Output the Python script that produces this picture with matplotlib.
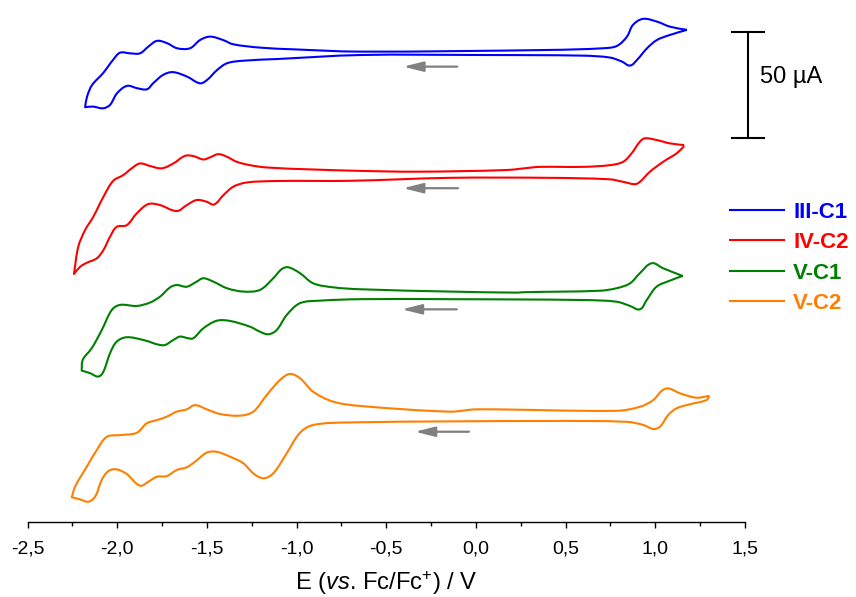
import matplotlib
matplotlib.use("Agg")
import matplotlib.pyplot as plt
from matplotlib.path import Path
from matplotlib.patches import PathPatch
from matplotlib.lines import Line2D
import numpy as np

plt.rcParams['font.family'] = ['Liberation Sans', 'DejaVu Sans']
plt.rcParams['mathtext.fontset'] = 'custom'
plt.rcParams['mathtext.rm'] = 'Liberation Sans'
plt.rcParams['mathtext.it'] = 'Liberation Sans:italic'

# ---------------- data (E in V vs Fc/Fc+, current in µA relative to each trace's baseline) ----------------
labels = ['III-C1', 'IV-C2', 'V-C1', 'V-C2']
colors = ['#0000FF', '#FF0000', '#008000', '#FF7F00']
offsets = [223.3, 164.1, 107.4, 50.6]   # vertical stacking offsets, µA

# III-C1 : reduction sweep (right -> left) then return sweep (left -> right)
E_III_C1 = [1.176, 1.082, 1.009, 0.954, 0.898, 0.859, 0.814, 0.747, 0.597, 0.039, -0.646, -1.109,
            -1.298, -1.388, -1.443, -1.499, -1.538, -1.611, -1.689, -1.744, -1.800, -1.834, -1.889,
            -1.945, -2.001, -2.040, -2.079, -2.135, -2.179,
            -2.168, -2.140, -2.079, -2.023, -1.984, -1.928, -1.873, -1.826, -1.778, -1.722, -1.666,
            -1.594, -1.538, -1.482, -1.410, -1.354, -1.204, -1.020, -0.646, 0.413, 0.708, 0.786,
            0.842, 0.875, 0.931, 1.009, 1.082, 1.176]
I_III_C1 = [9.5, 7.1, 4.7, 0.8, -4.7, -7.4, -5.5, -3.6, -2.7, -2.4, -2.4, -4.3,
            -5.1, -6.3, -9.5, -14.2, -15.8, -12.6, -10.5, -11.8, -15.8, -18.6, -18.1,
            -17.0, -20.5, -26.0, -27.6, -26.8, -27.1,
            -22.1, -16.6, -11.0, -4.7, -1.3, -1.6, -1.6, 1.6, 4.3, 3.2, 0.8,
            0.8, 4.7, 6.3, 4.7, 2.7, 1.1, 0.3, -0.8, 0.0, 0.8, 1.9,
            6.3, 11.8, 14.7, 13.4, 11.0, 9.5]

E_IV_C2 = [1.161, 1.119, 1.044, 0.970, 0.914, 0.887, 0.821, 0.747, 0.413, -0.145, -0.702, -1.111,
           -1.278, -1.353, -1.408, -1.460, -1.501, -1.557, -1.612, -1.668, -1.761, -1.826, -1.891,
           -1.947, -2.003, -2.040, -2.077, -2.114, -2.170, -2.207, -2.241,
           -2.217, -2.179, -2.133, -2.077, -2.022, -1.966, -1.919, -1.873, -1.817, -1.752, -1.687,
           -1.622, -1.576, -1.520, -1.482, -1.436, -1.389, -1.334, -1.260, -1.166, -0.925, -0.646,
           -0.330, 0.171, 0.301, 0.357, 0.597, 0.747, 0.821, 0.868, 0.914, 0.942, 1.007, 1.082, 1.161]
I_IV_C2 = [13.7, 10.3, 6.3, 1.6, -3.2, -4.3, -3.2, -2.0, -1.3, -1.3, -2.7, -2.8,
           -3.5, -5.5, -9.5, -13.9, -12.6, -11.8, -14.2, -17.0, -14.2, -13.7, -18.1,
           -23.7, -24.5, -29.2, -35.5, -39.4, -41.5, -43.4, -46.8,
           -33.9, -26.0, -19.7, -10.3, -2.7, 0.0, 3.2, 5.5, 4.3, 3.2, 5.5,
           9.1, 9.0, 7.4, 8.4, 9.9, 8.7, 6.3, 4.7, 3.6, 2.7, 2.0,
           1.6, 2.4, 3.5, 3.9, 3.9, 4.7, 6.3, 10.3, 15.8, 17.4, 16.6, 15.0, 14.2]

E_V_C1 = [1.152, 1.082, 1.007, 0.952, 0.914, 0.859, 0.785, 0.598, -0.145, -0.646, -0.869, -0.981,
          -1.055, -1.111, -1.157, -1.204, -1.260, -1.371, -1.445, -1.520, -1.576, -1.603, -1.650,
          -1.687, -1.743, -1.854, -1.947, -2.003, -2.040, -2.077, -2.105, -2.151, -2.198,
          -2.192, -2.142, -2.086, -2.030, -1.984, -1.891, -1.817, -1.761, -1.705, -1.668, -1.612,
          -1.557, -1.520, -1.464, -1.389, -1.297, -1.204, -1.130, -1.083, -1.046, -0.981, -0.907,
          -0.795, -0.646, -0.145, 0.227, 0.264, 0.691, 0.785, 0.859, 0.914, 0.980, 1.044, 1.152]
I_V_C1 = [9.0, 6.8, 3.9, -2.4, -6.8, -5.2, -3.2, -2.4, -2.0, -2.0, -2.7, -3.9,
          -9.5, -16.6, -18.6, -17.4, -15.0, -12.3, -12.2, -15.8, -20.5, -20.5, -19.7,
          -21.3, -23.8, -21.3, -20.0, -22.1, -27.6, -36.3, -38.6, -37.0, -35.8,
          -30.7, -25.2, -16.6, -7.1, -4.7, -5.2, -3.6, -0.8, 3.6, 4.7, 3.9,
          6.3, 7.9, 6.3, 3.2, 1.6, 2.4, 7.9, 12.2, 13.1, 10.3, 5.5,
          3.6, 2.7, 1.6, 1.1, 1.3, 2.0, 3.2, 5.5, 10.3, 15.0, 12.6, 9.0]

E_V_C2 = [1.301, 1.286, 1.193, 1.119, 1.072, 1.026, 0.989, 0.933, 0.840, 0.413, -0.702, -0.907,
          -0.981, -1.055, -1.130, -1.185, -1.241, -1.297, -1.371, -1.445, -1.501, -1.566, -1.612,
          -1.668, -1.724, -1.779, -1.826, -1.873, -1.947, -2.003, -2.049, -2.086, -2.123, -2.161,
          -2.207, -2.253,
          -2.235, -2.170, -2.114, -2.058, -1.984, -1.891, -1.835, -1.779, -1.724, -1.668, -1.612,
          -1.566, -1.501, -1.427, -1.315, -1.241, -1.166, -1.092, -1.037, -0.981, -0.907, -0.795,
          -0.646, -0.145, 0.004, 0.785, 0.914, 0.989, 1.035, 1.072, 1.137, 1.230, 1.301]
I_V_C2 = [9.1, 7.1, 5.1, 3.2, 0.0, -5.5, -6.6, -4.7, -3.2, -2.8, -3.5, -4.7,
          -8.4, -18.1, -27.6, -29.9, -27.6, -22.8, -19.7, -17.4, -17.8, -22.1, -24.7,
          -26.0, -28.9, -29.2, -31.5, -33.4, -27.9, -25.7, -26.5, -30.7, -38.6, -41.0,
          -39.9, -38.9,
          -33.9, -24.5, -16.6, -10.3, -9.5, -8.4, -3.9, -2.4, -0.8, 1.6, 2.7,
          4.7, 2.7, 0.5, -0.3, 1.6, 9.5, 16.6, 19.4, 17.4, 11.0, 6.3,
          4.3, 1.6, 2.7, 2.0, 3.9, 7.1, 11.4, 12.6, 10.3, 8.2, 9.1]

E_series = [E_III_C1, E_IV_C2, E_V_C1, E_V_C2]
I_series = [I_III_C1, I_IV_C2, I_V_C1, I_V_C2]

# scan-direction arrows: (E start, E end, current level) per trace
arrow_E_start = [-0.104, -0.100, -0.107, -0.039]
arrow_E_end = [-0.405, -0.406, -0.413, -0.340]
arrow_I = [215.4, 157.9, 100.6, 42.7]

xticks = [-2.5, -2.0, -1.5, -1.0, -0.5, 0.0, 0.5, 1.0, 1.5]
xticklabels = ['-2,5', '-2,0', '-1,5', '-1,0', '-0,5', '0,0', '0,5', '1,0', '1,5']
scale_bar_uA = 50

# ---------------- figure ----------------
W, H = 856, 597
fig = plt.figure(figsize=(W / 100, H / 100), dpi=100)
ax = fig.add_axes([27.5 / W, 75 / H, 717.5 / W, 517 / H])
ax.set_xlim(-2.5, 1.5)
ax.set_ylim(0, 517 / 2.114)

# approximate screen aspect (px per V, px per µA), used only to shape smooth Bezier joins
SX, SY = 179.4, 2.114


def smooth_loop(E, I):
    """Bezier path passing through every measured point; sharp corners at the switching potentials."""
    P = np.column_stack([np.asarray(E, float) * SX, np.asarray(I, float) * SY])
    k = int(np.argmin(E))
    verts = [P[0]]
    codes = [Path.MOVETO]
    for seg in (P[:k + 1], P[k:]):
        n = len(seg)
        T = np.zeros_like(seg)
        for i in range(n):
            if i == 0:
                d = seg[1] - seg[0]
            elif i == n - 1:
                d = seg[-1] - seg[-2]
            else:
                d = seg[i + 1] - seg[i - 1]
            T[i] = d / np.hypot(*d)
        for i in range(n - 1):
            L = np.hypot(*(seg[i + 1] - seg[i]))
            verts += [seg[i] + T[i] * L / 3, seg[i + 1] - T[i + 1] * L / 3, seg[i + 1]]
            codes += [Path.CURVE4] * 3
    verts = np.array(verts) / [SX, SY]
    return Path(verts, codes)


handles = []
for E, I, off, c, lab in zip(E_series, I_series, offsets, colors, labels):
    path = smooth_loop(E, np.asarray(I) + off)
    ax.add_patch(PathPatch(path, facecolor='none', edgecolor=c, lw=1.5, joinstyle='round'))
    handles.append(Line2D([], [], color=c, lw=1.5))

for e0, e1, y in zip(arrow_E_start, arrow_E_end, arrow_I):
    ax.annotate('', xy=(e1, y), xytext=(e0, y),
                arrowprops=dict(arrowstyle='-|>,head_length=0.6,head_width=0.15',
                                mutation_scale=20, color='#808080', lw=1.6,
                                shrinkA=0, shrinkB=0))

# spines / ticks
for s in ['left', 'right', 'top']:
    ax.spines[s].set_visible(False)
ax.spines['bottom'].set_linewidth(1.0)
ax.set_yticks([])
ax.set_xticks(xticks)
ax.set_xticklabels(xticklabels, fontsize=14)
ax.set_xticks(np.arange(-2.5, 1.51, 0.25), minor=True)
ax.tick_params(axis='x', which='major', direction='out', length=4.5, width=1.0, pad=8.5)
ax.tick_params(axis='x', which='minor', direction='out', length=2.6, width=1.0)
ax.set_xlabel(r'E ($\mathit{vs}$. Fc/Fc$^{+}$) / V', fontsize=17.1, labelpad=9)

# scale bar
top = 231.8
xb = 1.515
ax.plot([xb, xb], [top - scale_bar_uA, top], color='black', lw=1.5, clip_on=False)
ax.plot([1.426, 1.606], [top, top], color='black', lw=1.5, clip_on=False)
ax.plot([1.426, 1.606], [top - scale_bar_uA, top - scale_bar_uA], color='black', lw=1.5, clip_on=False)
ax.text(1.583, 210.5, '50 µA', fontsize=17, ha='left', va='center', clip_on=False)

leg = ax.legend(handles=handles, labels=labels, loc='upper left',
                bbox_to_anchor=(730 / W, (H - 201.5) / H), bbox_transform=fig.transFigure,
                frameon=False, borderpad=0, borderaxespad=0, handlelength=2.45,
                handletextpad=0.4, labelspacing=0.43,
                prop={'weight': 'bold', 'size': 16}, labelcolor=colors)

fig.savefig('out.png', dpi=100)
